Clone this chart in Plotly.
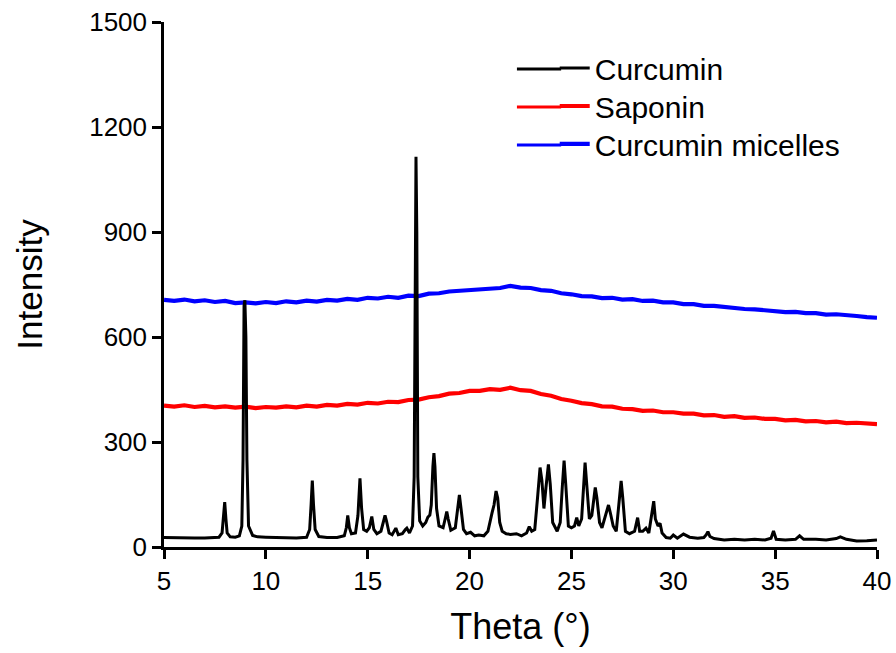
import plotly.graph_objects as go

# Curcumin pattern (theta, intensity)
cur_x = [5.0, 5.5, 6.0, 6.5, 7.0, 7.5, 7.7, 7.85, 7.92, 7.98, 8.04, 8.1, 8.25,
         8.5, 8.7, 8.82, 8.88, 8.93, 8.97, 9.02, 9.07, 9.15, 9.35,
         9.6, 10.0, 10.5, 11.0, 11.5, 12.0, 12.15, 12.22, 12.28, 12.34, 12.42, 12.6,
         13.0, 13.5, 13.85, 13.95, 14.02, 14.1, 14.2, 14.4, 14.52, 14.62, 14.7, 14.8, 14.95,
         15.08, 15.2, 15.3, 15.45, 15.65, 15.78, 15.85, 15.92, 16.05, 16.2, 16.3, 16.38, 16.5,
         16.7, 16.85, 16.92, 17.05, 17.2, 17.28, 17.33, 17.37, 17.41, 17.46, 17.55, 17.7,
         17.85, 17.95, 18.05, 18.12, 18.2, 18.25, 18.3, 18.38, 18.5, 18.7, 18.82, 18.88, 18.95,
         19.08, 19.3, 19.42, 19.5, 19.58, 19.7, 19.85, 20.05, 20.25, 20.45, 20.7, 20.9, 21.1,
         21.2, 21.3, 21.38, 21.48, 21.6, 21.8, 22.0, 22.3, 22.55, 22.8, 22.93, 23.05,
         23.2, 23.35, 23.46, 23.55, 23.65, 23.75, 23.87, 23.96, 24.08, 24.3, 24.45, 24.55,
         24.64, 24.72, 24.85, 25.0, 25.15, 25.26, 25.36, 25.5, 25.6, 25.67, 25.75, 25.88,
         26.0, 26.1, 26.17, 26.25, 26.38, 26.5, 26.7, 26.82, 26.92, 27.05, 27.2, 27.35,
         27.44, 27.52, 27.65, 27.85, 28.1, 28.25, 28.35, 28.5, 28.66, 28.8, 28.95, 29.04,
         29.12, 29.25, 29.35, 29.45, 29.65, 29.85, 30.0, 30.2, 30.5, 30.8, 31.2, 31.5,
         31.62, 31.7, 31.8, 32.0, 32.5, 33.0, 33.5, 34.0, 34.5, 34.8, 34.92, 35.05, 35.5,
         36.0, 36.2, 36.4, 37.0, 37.5, 38.0, 38.2, 38.5, 39.0, 39.5, 40.0]
cur_y = [27, 26, 27, 26, 26, 27, 28, 40, 80, 128, 80, 40, 29,
         28, 32, 60, 250, 690, 705, 600, 250, 60, 33,
         29, 28, 27, 27, 26, 28, 50, 120, 190, 120, 50, 30,
         27, 27, 32, 55, 90, 55, 38, 40, 90, 196, 110, 50, 45,
         55, 87, 50, 38, 45, 75, 90, 75, 40, 35, 48, 54, 35,
         38, 50, 54, 40, 60, 200, 900, 1115, 900, 200, 75, 60,
         70, 85, 91, 120, 230, 268, 230, 110, 60, 55, 85, 101, 80,
         48, 55, 110, 149, 110, 50, 38, 42, 32, 34, 32, 45, 97,
         120, 160, 140, 70, 45, 38, 36, 38, 32, 40, 58, 45,
         50, 150, 227, 190, 110, 170, 236, 180, 70, 45, 70, 170,
         247, 180, 60, 55, 60, 84, 60, 80, 200, 241, 180, 80,
         90, 150, 170, 140, 70, 55, 95, 120, 95, 60, 45, 140,
         189, 140, 45, 38, 45, 84, 45, 45, 54, 40, 100, 131,
         80, 60, 68, 40, 27, 25, 34, 25, 37, 28, 25, 27,
         35, 44, 30, 24, 20, 22, 20, 22, 20, 25, 46, 22, 20,
         22, 32, 22, 22, 20, 24, 29, 22, 17, 18, 20]

# Saponin and curcumin micelles (0.5 degree readings)
amorph_x = [5.0 + 0.5 * i for i in range(71)]
sap_y = [404, 401, 405, 400, 403, 399, 402, 398, 401, 397, 400, 398, 402, 399, 404, 401, 406, 404, 409, 407,
         412, 410, 415, 414, 420, 421, 428, 431, 438, 440, 446, 446, 451, 449, 455, 448, 446, 437, 432, 423,
         418, 411, 408, 402, 401, 395, 394, 389, 390, 385, 385, 381, 381, 376, 377, 372, 374, 369, 370, 366,
         366, 362, 363, 359, 360, 356, 358, 354, 355, 352, 351]
mic_y = [706, 703, 707, 702, 705, 700, 703, 697, 699, 696, 700, 697, 702, 699, 704, 701, 706, 704, 709, 706,
         712, 710, 715, 712, 718, 717, 724, 725, 730, 732, 737, 736, 741, 740, 746, 741, 740, 734, 732, 725,
         722, 717, 716, 711, 712, 707, 708, 703, 704, 699, 699, 694, 694, 689, 689, 685, 684, 680, 679, 676,
         676, 671, 672, 668, 668, 664, 665, 661, 660, 657, 655]

x_ticks = [5, 10, 15, 20, 25, 30, 35, 40]
y_ticks = [0, 300, 600, 900, 1200, 1500]

FONT = "Liberation Sans, Arial, sans-serif"
BLACK, RED, BLUE = "#000000", "#ff0000", "#0000ff"

fig = go.Figure()
fig.add_trace(go.Scatter(x=amorph_x, y=sap_y, mode="lines", name="Saponin",
                         line=dict(color=RED, width=4.2), legend="legend2"))
fig.add_trace(go.Scatter(x=amorph_x, y=mic_y, mode="lines", name="Curcumin micelles",
                         line=dict(color=BLUE, width=4.2), legend="legend3"))
fig.add_trace(go.Scatter(x=cur_x, y=cur_y, mode="lines", name="Curcumin",
                         line=dict(color=BLACK, width=3), legend="legend"))

leg_common = dict(x=0.548, xanchor="left", yanchor="top", bgcolor="rgba(0,0,0,0)",
                  font=dict(size=30, family=FONT, color="black"))

# longer legend key lines, as in the original
key_rows = [(0.9105, BLACK), (0.8381, RED), (0.7657, BLUE)]
shapes = [dict(type="line", xref="paper", yref="paper", x0=0.495, x1=0.557, y0=yy, y1=yy,
               line=dict(color=c, width=3)) for yy, c in key_rows]

fig.update_layout(
    width=896, height=653,
    margin=dict(l=164, r=19, t=22, b=106, autoexpand=False),
    paper_bgcolor="white", plot_bgcolor="white",
    font=dict(family=FONT, color="black"),
    showlegend=True,
    legend=dict(y=0.9618, **leg_common),
    legend2=dict(y=0.8895, **leg_common),
    legend3=dict(y=0.8175, **leg_common),
    shapes=shapes,
    xaxis=dict(range=[5, 40], tickvals=x_ticks, showline=True, linecolor="black", linewidth=2.5,
               ticks="outside", ticklen=9, tickwidth=2.5, tickcolor="black", showgrid=False,
               zeroline=False, tickfont=dict(size=26, family=FONT), automargin=False,
               title=dict(text="Theta (°)", font=dict(size=36, family=FONT), standoff=19)),
    yaxis=dict(range=[0, 1500], tickvals=y_ticks, showline=True, linecolor="black", linewidth=2.5,
               ticks="outside", ticklen=9, tickwidth=2.5, tickcolor="black", showgrid=False,
               zeroline=False, tickfont=dict(size=26, family=FONT), automargin=False,
               title=dict(text="Intensity", font=dict(size=35, family=FONT), standoff=36)),
)

# remove the default page margin so the figure fills the window exactly
fig.write_html("out.html", config={"displayModeBar": False},
               post_script="document.body.style.margin='0';")
